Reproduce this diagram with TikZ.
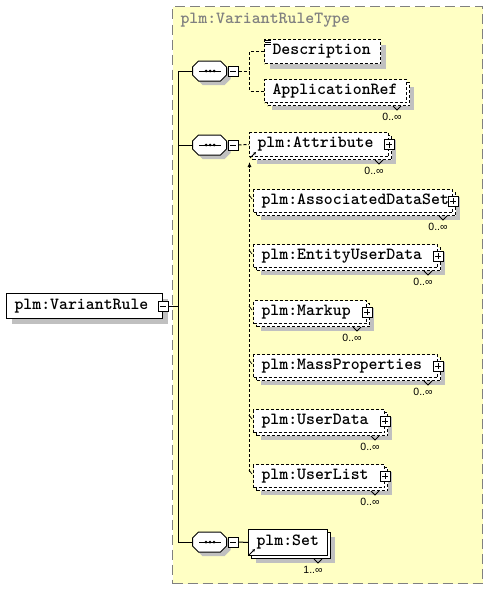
\documentclass[tikz,border=0pt]{standalone}
\usepackage{fontspec}
\usetikzlibrary{positioning,calc,shadows,arrows.meta}
\newfontfamily\occursfont{Liberation Sans}
\definecolor{typefill}{HTML}{FFFFC4}
\definecolor{typeframe}{HTML}{808080}
\definecolor{shadowgray}{HTML}{C0C0C0}
\tikzset{
  elemfont/.style={font=\ttfamily\bfseries\fontsize{17}{19}\selectfont},
  typebox/.style={draw=typeframe,fill=typefill,dash pattern=on 10pt off 5pt,
    rectangle,inner sep=0pt},
  typetitle/.style={elemfont,text=typeframe,inner sep=0pt},
  elembox/.style={draw,fill=white,rectangle,elemfont,anchor=north west,
    inner xsep=8pt,inner ysep=0pt,align=left},
  elemshadow/.style={general shadow={fill=shadowgray,shadow xshift=5pt,shadow yshift=-5pt}},
  optbox/.style={dash pattern=on 3pt off 2pt},
  manybox/.style={general shadow={fill=shadowgray,shadow xshift=7pt,shadow yshift=-7pt},
    general shadow={fill=white,draw=black,shadow xshift=3pt,shadow yshift=-3pt,#1}},
  manybox/.default={solid},
  minusbox/.style={draw,fill=white,rectangle,minimum size=10pt,inner sep=0pt,
    path picture={\draw (path picture bounding box.center) ++(-3pt,0) -- ++(6pt,0);}},
  plusbox/.style={minusbox,
    path picture={\draw (path picture bounding box.center) ++(-3pt,0) -- ++(6pt,0)
      (path picture bounding box.center) ++(0,-3pt) -- ++(0,6pt);}},
  seqbox/.style={rectangle,minimum width=34pt,minimum height=20pt,inner sep=0pt},
  occurs/.style={font=\occursfont\fontsize{10.5}{12}\selectfont,inner sep=0pt},
}
% octagon of a sequence compositor, around a named seqbox node
\newcommand\octagonpath[2]{($(#1.west)+(#2)$) ++(0,-4) -- ++(6,-6) -- ++(22,0) -- ++(6,6)
  -- ++(0,8) -- ++(-6,6) -- ++(-22,0) -- ++(-6,-6) -- cycle}
\newcommand\seqglyph[1]{%
  \fill[shadowgray] \octagonpath{#1}{4,4};
  \draw[fill=white] \octagonpath{#1}{0,0};
  \draw ($(#1.center)+(-11,0)$) -- ++(22,0);
  \fill ($(#1.center)+(-4,0)$) circle (1.5pt) (#1.center) circle (1.5pt)
    ($(#1.center)+(4,0)$) circle (1.5pt);}
\begin{document}
\begin{tikzpicture}[x=1pt,y=-1pt,line width=1pt]
  \useasboundingbox (0,0) rectangle (488,589);
  % complex type frame
  \node[typebox,minimum width=310pt,minimum height=577pt,anchor=north west] (vrtype) at (172,6) {};
  \node[typetitle,anchor=west] (vrtitle) at (180,20) {plm:VariantRuleType};

  % root element
  \node[elembox,elemshadow,text width=140pt,minimum height=25pt] (variantrule) at (6,293) {plm:VariantRule};
  \node[minusbox] (variantruleminus) at (variantrule.east) {};

  % sequences
  \node[seqbox] (seqdesc) at (210,71) {};
  \seqglyph{seqdesc}
  \node[minusbox,right=0pt of seqdesc] (seqdescminus) {};
  \node[seqbox] (seqattr) at (210,145) {};
  \seqglyph{seqattr}
  \node[minusbox,right=0pt of seqattr] (seqattrminus) {};
  \node[seqbox] (seqset) at (210,542) {};
  \seqglyph{seqset}
  \node[minusbox,right=0pt of seqset] (seqsetminus) {};

  % elements of the first sequence
  \node[elembox,optbox,elemshadow,text width=100pt,minimum height=24pt] (desc) at (264,39) {Description};
  \node[elembox,optbox,manybox=optbox,text width=126pt,minimum height=23pt] (appref) at (264,79) {ApplicationRef};
  \draw[line width=0.6pt] ($(desc.north west)+(1,1.5)$) -- ++(6,0)
    ($(desc.north west)+(1,3.5)$) -- ++(6,0) ($(desc.north west)+(1,5.5)$) -- ++(6,0);

  % substitution group
  \node[elembox,optbox,manybox=optbox,text width=123pt,minimum height=24pt] (attr) at (249,132) {plm:Attribute};
  \node[elembox,optbox,manybox=optbox,text width=183pt,minimum height=23pt] (assocds) at (253,189) {plm:AssociatedDataSet};
  \node[elembox,optbox,manybox=optbox,text width=168pt,minimum height=23pt] (entityud) at (253,244) {plm:EntityUserData};
  \node[elembox,optbox,manybox=optbox,text width=97pt,minimum height=23pt] (markup) at (253,300) {plm:Markup};
  \node[elembox,optbox,manybox=optbox,text width=168pt,minimum height=23pt] (massprop) at (253,354) {plm:MassProperties};
  \node[elembox,optbox,manybox=optbox,text width=115pt,minimum height=23pt] (userdata) at (253,409) {plm:UserData};
  \node[elembox,optbox,manybox=optbox,text width=115pt,minimum height=23pt] (userlist) at (253,464) {plm:UserList};
  \node[plusbox] (attrplus) at (attr.east) {};
  \node[plusbox] (assocdsplus) at (assocds.east) {};
  \node[plusbox] (entityudplus) at (entityud.east) {};
  \node[plusbox] (markupplus) at (markup.east) {};
  \node[plusbox] (masspropplus) at (massprop.east) {};
  \node[plusbox] (userdataplus) at (userdata.east) {};
  \node[plusbox] (userlistplus) at (userlist.east) {};

  % element of the last sequence
  \node[elembox,manybox,text width=63pt,minimum height=26pt] (set) at (248,529) {plm:Set};

  % connectors
  \coordinate (spine) at (178,71);
  \draw (variantruleminus.east) -- (variantruleminus.east -| spine);
  \draw (seqdesc.west) -- (seqdesc.west -| spine) -- (seqset.west -| spine) -- (seqset.west);
  \draw (seqattr.west) -- (seqattr.west -| spine);
  \coordinate (forkdesc) at ($(seqdescminus.east)+(11,0)$);
  \draw[optbox] (seqdescminus.east) -- (forkdesc);
  \draw[optbox] (desc.west) -| (forkdesc) |- (appref.west);
  \coordinate (forkattr) at ($(seqattrminus.east)+(11,0)$);
  \draw[optbox] (seqattrminus.east) -- (attr.west);
  \draw[optbox,-{Latex[length=5pt,width=4pt]}] (userlist.west -| forkattr) ++(0,-4) -- ($(attr.south -| forkattr)+(0,5)$);
  \draw (seqsetminus.east) -- (set.west);

  % substitution ticks and reference arrows
  \draw[line width=0.7pt] (assocds.west) ++(-4,-6) -- ++(3,4);
  \draw[line width=0.7pt] (entityud.west) ++(-4,-6) -- ++(3,4);
  \draw[line width=0.7pt] (markup.west) ++(-4,-6) -- ++(3,4);
  \draw[line width=0.7pt] (massprop.west) ++(-4,-6) -- ++(3,4);
  \draw[line width=0.7pt] (userdata.west) ++(-4,-6) -- ++(3,4);
  \draw[line width=0.7pt] (userlist.west) ++(-4,-6) -- ++(3,4);
  \draw[-{Stealth[length=3pt,width=3pt]}] ($(attr.south west)+(1,1)$) -- ++(6,-6);
  \draw[-{Stealth[length=3pt,width=3pt]}] ($(set.south west)+(1,-1)$) -- ++(6,-6);

  % occurrences
  \draw ($(appref.south east)+(-14,3)$) -- ++(4,4) -- ++(4,-4);
  \node[occurs] at ($(appref.south east)+(-15,14)$) {0..∞};
  \draw ($(attr.south east)+(-14,3)$) -- ++(4,4) -- ++(4,-4);
  \node[occurs] at ($(attr.south east)+(-15,14)$) {0..∞};
  \draw ($(assocds.south east)+(-14,3)$) -- ++(4,4) -- ++(4,-4);
  \node[occurs] at ($(assocds.south east)+(-15,14)$) {0..∞};
  \draw ($(entityud.south east)+(-14,3)$) -- ++(4,4) -- ++(4,-4);
  \node[occurs] at ($(entityud.south east)+(-15,14)$) {0..∞};
  \draw ($(markup.south east)+(-14,3)$) -- ++(4,4) -- ++(4,-4);
  \node[occurs] at ($(markup.south east)+(-15,14)$) {0..∞};
  \draw ($(massprop.south east)+(-14,3)$) -- ++(4,4) -- ++(4,-4);
  \node[occurs] at ($(massprop.south east)+(-15,14)$) {0..∞};
  \draw ($(userdata.south east)+(-14,3)$) -- ++(4,4) -- ++(4,-4);
  \node[occurs] at ($(userdata.south east)+(-15,14)$) {0..∞};
  \draw ($(userlist.south east)+(-14,3)$) -- ++(4,4) -- ++(4,-4);
  \node[occurs] at ($(userlist.south east)+(-15,14)$) {0..∞};
  \draw ($(set.south east)+(-14,3)$) -- ++(4,4) -- ++(4,-4);
  \node[occurs] at ($(set.south east)+(-15,14)$) {1..∞};
\end{tikzpicture}
\end{document}
